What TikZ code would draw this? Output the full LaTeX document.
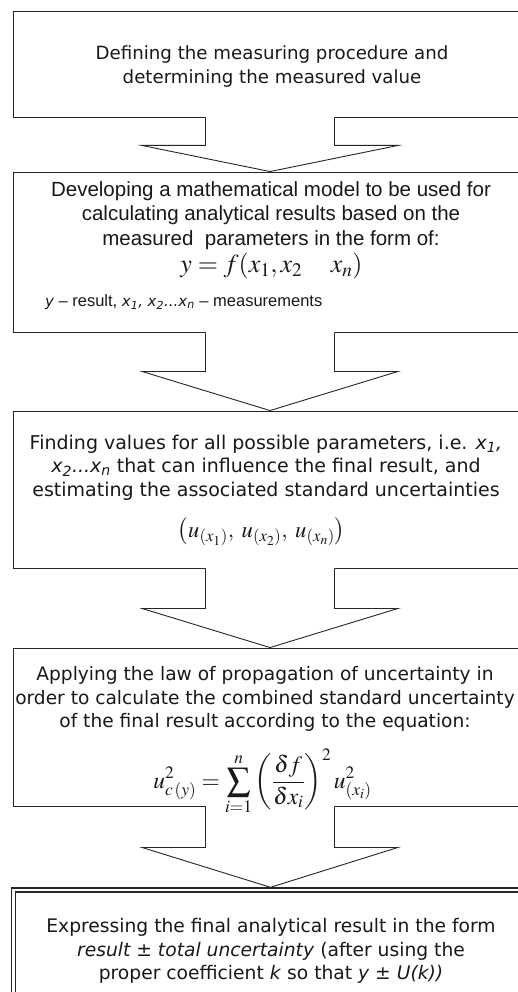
\documentclass[tikz,border=0pt]{standalone}
\usepackage{mathptmx}
\usepackage[no-math]{fontspec}
\setmainfont{DejaVu Sans}
\newfontfamily\arialf{Liberation Sans}
\newfontfamily\verd{DejaVu Sans}
\usetikzlibrary{calc}
\tikzset{
  box/.style={draw=black!85, line width=0.9pt, minimum width=514pt, inner sep=0pt},
  arrowline/.style={draw=black!85, line width=0.9pt, line join=miter},
  vtext/.style={font=\verd\fontsize{19}{23.5}\selectfont, align=center, inner sep=0pt, text=black!90},
  atext/.style={font=\arialf\fontsize{20.5}{24.5}\selectfont, align=center, inner sep=0pt, text=black!90},
  mtext/.style={inner sep=0pt, text=black!90},
  smalltext/.style={font=\arialf\fontsize{16.5}{19}\selectfont, inner sep=0pt, text=black!90, anchor=west},
}
\newcommand\blockarrow[3]{%
  \fill[white] ($(#1.south)+(-64.5,1.5)$) -- ($(#1.south)+(-64.5,-#3)$) -- ($(#1.south)+(-128,-#3)$) -- (#2) -- ($(#1.south)+(128,-#3)$) -- ($(#1.south)+(64.5,-#3)$) -- ($(#1.south)+(64.5,1.5)$) -- cycle;
  \draw[arrowline] ($(#1.south)+(-64.5,0)$) -- ($(#1.south)+(-64.5,-#3)$) -- ($(#1.south)+(-128,-#3)$) -- (#2) -- ($(#1.south)+(128,-#3)$) -- ($(#1.south)+(64.5,-#3)$) -- ($(#1.south)+(64.5,0)$);
}
\newcommand\vit[1]{{\verd\itshape\fontsize{15}{19}\selectfont #1}}
\begin{document}
\begin{tikzpicture}[x=1pt,y=1pt]
\useasboundingbox (0,0) rectangle (518,-992);
\fill[white] (0,0) rectangle (518,-992);
\clip (0,0) rectangle (518,-992);
% boxes
\node[box, minimum height=106pt] (b1) at (270,-64) {};
\node[box, minimum height=160pt] (b2) at (270,-252) {};
\node[box, minimum height=157pt] (b3) at (270,-489.5) {};
\node[box, minimum height=158pt] (b4) at (270,-727) {};
\node[draw=black!85, line width=1.3pt, double=white, double distance=2.8pt, minimum width=514pt, minimum height=150pt, inner sep=0pt, outer sep=2.7pt] (b5) at (270.5,-965) {};
% arrows
\blockarrow{b1}{b2.north}{28}
\blockarrow{b2}{b3.north}{39}
\blockarrow{b3}{b4.north}{40}
\blockarrow{b4}{b5.north}{41}
% texts
\node[vtext, font=\verd\fontsize{18.2}{24}\selectfont] (t1) at (272,-66) {Defining the measuring procedure and\\determining the measured value};
\node[atext] (t2) at (271,-215.5) {Developing a mathematical model to be used for\\calculating analytical results based on the\\measured\ \ parameters in the form of:};
\node[mtext, font=\fontsize{26}{28}\selectfont] (f2) at (271.5,-266) {$y = f(x_1,x_2\hspace{1.1em}x_n)$};
\node[smalltext] (t2b) at (45,-302) {\vit{y} – result, \vit{x\textsubscript{1},} \vit{x\textsubscript{2}...x\textsubscript{n}} – measurements};
\node[vtext] (t3) at (266,-467.5) {Finding values for all possible parameters, i.e. \textit{x\textsubscript{1},}\\\textit{x\textsubscript{2}...x\textsubscript{n}} that can influence the final result, and\\estimating the associated standard uncertainties};
\node[mtext, font=\fontsize{22.7}{26}\selectfont] (f3) at (261.5,-532) {$\bigl(u_{(x_1)},\; u_{(x_2)},\; u_{(x_n)}\bigr)$};
\node[vtext, font=\verd\fontsize{18.6}{23.5}\selectfont] (t4) at (265,-699) {Applying the law of propagation of uncertainty in\\order to calculate the combined standard uncertainty\\of the final result according to the equation:};
\node[mtext, font=\fontsize{23.5}{26}\selectfont] (f4) at (262.5,-782) {$\displaystyle u^{2}_{c\,(y)} = \sum_{i=1}^{n}\left(\frac{\delta f}{\delta x_i}\right)^{2} u^{2}_{(x_i)}$};
\node[vtext, font=\verd\fontsize{18.7}{23.5}\selectfont] (t5) at (271,-951) {Expressing the final analytical result in the form\\\textit{result ± total uncertainty} (after using the\\proper coefficient \textit{k} so that \textit{y ± U(k))}};
\end{tikzpicture}
\end{document}
